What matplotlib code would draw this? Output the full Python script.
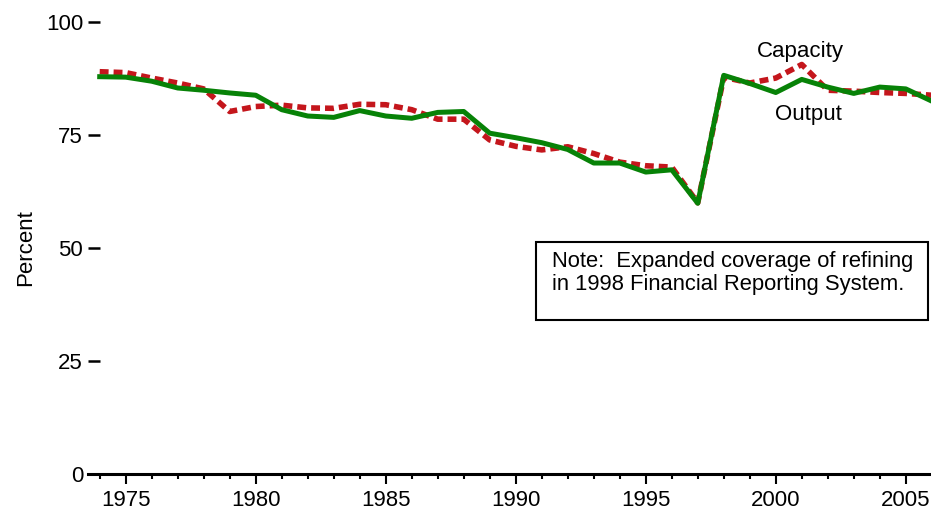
import matplotlib.pyplot as plt
from matplotlib.patches import Rectangle
from matplotlib.ticker import MultipleLocator

plt.rcParams['font.family'] = ['Liberation Sans', 'DejaVu Sans']

years = list(range(1974, 2007))
# refinery capacity utilisation, percent
capacity = [89.0, 88.8, 87.6, 86.5, 85.2, 80.2, 81.3, 81.6, 81.0, 80.9, 81.8,
            81.7, 80.6, 78.5, 78.5, 73.9, 72.5, 71.7, 72.4, 70.9, 69.0, 68.2,
            67.9, 60.0, 87.8, 86.5, 87.6, 90.6, 84.9, 84.7, 84.4, 84.2, 83.8]
# refinery output, percent
output = [87.9, 87.8, 86.9, 85.4, 84.9, 84.3, 83.8, 80.6, 79.2, 78.9, 80.4,
          79.2, 78.7, 80.0, 80.2, 75.4, 74.4, 73.3, 71.8, 68.8, 68.8, 66.8,
          67.3, 59.9, 88.2, 86.4, 84.4, 87.3, 85.6, 84.2, 85.6, 85.2, 82.5]

note = 'Note:  Expanded coverage of refining\nin 1998 Financial Reporting System.'

W, H = 931, 511
fig = plt.figure(figsize=(W / 100, H / 100), dpi=100)
ax = fig.add_axes([88 / W, (H - 474) / H, 1 - 88 / W, (474 - 22) / H])

ax.plot(years, capacity, color='#c4161c', lw=4, dashes=(1.6, 0.9), zorder=2)
ax.plot(years, output, color='#078207', lw=3.6, zorder=3)

ax.set_xlim(1973.55, 2005.97)
ax.set_ylim(0, 100)

for s in ['top', 'right', 'left']:
    ax.spines[s].set_visible(False)
ax.spines['bottom'].set_linewidth(2.2)

ax.xaxis.set_major_locator(MultipleLocator(5))
ax.xaxis.set_minor_locator(MultipleLocator(1))
ax.set_yticks([0, 25, 50, 75, 100])
ax.tick_params(axis='x', which='major', direction='out', length=7.2, width=1.5,
               labelsize=16, pad=4.5)
ax.tick_params(axis='x', which='minor', direction='out', length=3.6, width=1.5)
ax.tick_params(axis='y', direction='in', length=8.6, width=1.8, labelsize=16,
               pad=3.6)
ax.set_ylabel('Percent', fontsize=16, labelpad=7)

ax.text(2000.93, 93.4, 'Capacity', fontsize=16, ha='center', va='center')
ax.text(2001.24, 79.6, 'Output', fontsize=16, ha='center', va='center')

fig.add_artist(Rectangle((536 / W, (H - 320) / H), (928 - 536) / W, (320 - 242) / H,
                         transform=fig.transFigure, facecolor='white',
                         edgecolor='black', lw=1.5, zorder=5))
fig.text(552 / W, (H - 251) / H, note, fontsize=15.8, ha='left', va='top',
         linespacing=1.12, zorder=6)

fig.savefig('out.png', dpi=100)
